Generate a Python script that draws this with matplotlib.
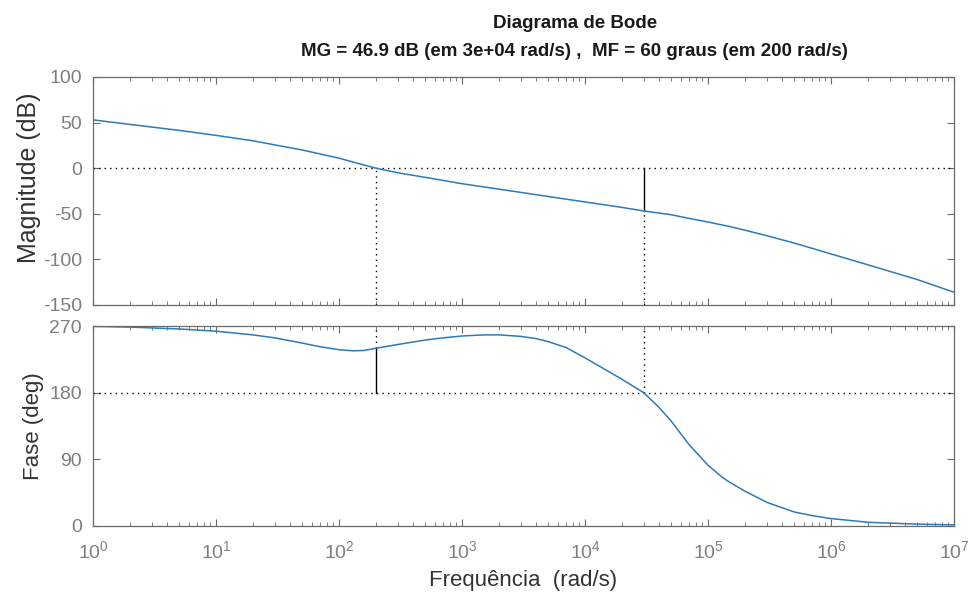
import matplotlib
matplotlib.use("Agg")
import matplotlib.pyplot as plt

plt.rcParams['font.family'] = ['Liberation Sans', 'DejaVu Sans']
plt.rcParams['mathtext.fontset'] = 'custom'
plt.rcParams['mathtext.rm'] = 'Liberation Sans'
plt.rcParams['axes.unicode_minus'] = False

# pontos (rad/s, dB, graus)
freq_mag = [1, 2, 5, 10, 20, 50, 100, 150, 200, 300, 500, 1e3, 2e3, 5e3,
            1e4, 2e4, 3e4, 5e4, 7e4, 1e5, 1.5e5, 2e5, 3e5, 5e5, 1e6, 2e6,
            5e6, 1e7]
mag_db = [53, 48, 41.5, 36, 30, 20, 11, 4.5, 0, -5, -10, -17, -23, -31,
          -37, -43, -46.9, -51, -55, -59, -64, -68, -74, -82, -94, -106,
          -122, -136]

freq_fase = [1, 2, 5, 10, 20, 30, 50, 70, 100, 130, 160, 200, 300, 500,
             700, 1e3, 1.5e3, 2e3, 3e3, 4e3, 5e3, 7e3, 1e4, 1.5e4, 2e4,
             3e4, 4e4, 5e4, 7e4, 1e5, 1.3e5, 1.5e5, 2e5, 3e5, 5e5, 7e5,
             1e6, 2e6, 5e6, 1e7]
fase_deg = [269.5, 268.5, 266, 263, 258, 254, 247, 242, 238, 236.5, 237,
            240, 245, 251, 254, 256.5, 258, 258, 256, 253, 249, 241, 227,
            210, 198, 180, 160, 142, 110, 82, 66, 59, 47, 32, 19, 14, 10,
            5, 2.5, 1.5]

# margens
wc = 200      # cruzamento de ganho
mf = 60       # margem de fase
wg = 3e4      # cruzamento de fase
mg = 46.9     # margem de ganho

linha = '#2b7bba'
cinza = '#6a6a6a'
texto_tick = '#7f7f7f'
pontilhado = (0, (1, 3))

fig = plt.figure(figsize=(9.71, 5.95), dpi=100)
ax1 = fig.add_axes([0.0958, 0.4874, 0.8867, 0.3832])
ax2 = fig.add_axes([0.0958, 0.1160, 0.8867, 0.3361])

for ax in (ax1, ax2):
    ax.set_xscale('log')
    ax.set_xlim(1, 1e7)
    ax.set_xticks([10.0 ** k for k in range(8)])
    ax.tick_params(which='both', direction='in', top=True, right=True,
                   colors=cinza, labelcolor=texto_tick, labelsize=14)
    ax.tick_params(which='major', length=5, width=0.8)
    ax.tick_params(which='minor', length=3, width=0.6)
    ax.tick_params(axis='y', pad=8)
    ax.tick_params(axis='x', pad=10)
    for s in ax.spines.values():
        s.set_color(cinza)
        s.set_linewidth(0.9)

# magnitude
ax1.set_ylim(-150, 100)
ax1.set_yticks([-150, -100, -50, 0, 50, 100])
ax1.axhline(0, color='k', ls=pontilhado, lw=1)
ax1.plot([wc, wc], [-150, 0], color='k', ls=pontilhado, lw=1)
ax1.plot([wg, wg], [0, -mg], color='k', lw=1)
ax1.plot([wg, wg], [-150, -mg], color='k', ls=pontilhado, lw=1)
ax1.plot(freq_mag, mag_db, color=linha, lw=1.1)
ax1.tick_params(axis='x', labelbottom=False)
ax1.set_ylabel('Magnitude (dB)', fontsize=18, color='#333333')
ax1.yaxis.set_label_coords(-0.061, 0.56)

# fase
ax2.set_ylim(0, 270)
ax2.set_yticks([0, 90, 180, 270])
ax2.axhline(180, color='k', ls=pontilhado, lw=1)
ax2.plot([wc, wc], [180 + mf, 270], color='k', ls=pontilhado, lw=1)
ax2.plot([wc, wc], [180, 180 + mf], color='k', lw=1)
ax2.plot([wg, wg], [180, 270], color='k', ls=pontilhado, lw=1)
ax2.plot(freq_fase, fase_deg, color=linha, lw=1.1)
ax2.set_ylabel('Fase (deg)', fontsize=16, color='#333333')
ax2.yaxis.set_label_coords(-0.057, 0.5)
ax2.set_xlabel('Frequência  (rad/s)', fontsize=16, color='#333333')
ax2.xaxis.set_label_coords(0.5, -0.22)

fig.text(0.592, 0.96, 'Diagrama de Bode', ha='center', va='center',
         fontsize=13.5, fontweight='bold', color='#1a1a1a')
fig.text(0.592, 0.913,
         'MG = %.1f dB (em 3e+04 rad/s) ,  MF = %d graus (em %d rad/s)' % (mg, mf, wc),
         ha='center', va='center', fontsize=13.5, fontweight='bold', color='#1a1a1a')

fig.savefig('out.png', dpi=100)
